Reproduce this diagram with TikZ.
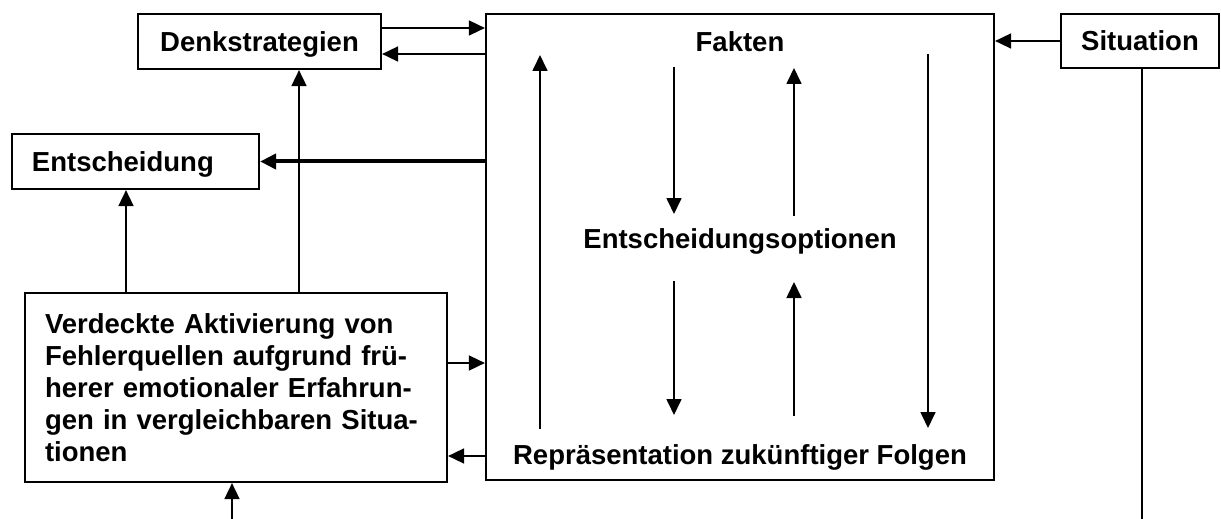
\documentclass[tikz,border=0pt]{standalone}
\usepackage{fontspec}
\setmainfont{Liberation Sans}
\usetikzlibrary{arrows.meta, positioning}

\begin{document}
\begin{tikzpicture}[x=0.5pt, y=-0.5pt,
    >={Triangle[length=8pt, width=7.5pt]},
    schrift/.style={font=\fontsize{13.75}{16}\selectfont\bfseries},
    kasten/.style={draw, line width=1.1pt, inner sep=0pt, schrift},
    einzeilig/.style={text height=10pt, text depth=0pt},
    etikett/.style={inner sep=0pt, anchor=base, schrift},
    pfeil/.style={->, line width=0.85pt}]

    % =================================================================
    % 0. BILDRAHMEN
    % =================================================================
    \useasboundingbox (0,0) rectangle (1221,519);

    % =================================================================
    % 1. KAESTEN
    % =================================================================
    \node[kasten, einzeilig, minimum width=121.5pt, minimum height=27.5pt] (denk) at (259.5,41.5) {Denkstrategien};
    \node[kasten, einzeilig, minimum width=79pt, minimum height=27pt] (sit) at (1140,41) {Situation};
    \node[kasten, einzeilig, minimum height=27.5pt, text width=103.5pt, inner xsep=10pt, align=left] (ent) at (135.5,161.5) {Entscheidung};
    \node[kasten, minimum width=254pt, minimum height=233pt] (gross) at (740,247) {};
    \node[kasten, minimum height=94.5pt, text width=191pt, inner xsep=10pt, align=left] (verd) at (236,387.5)
        {Verdeckte Aktivierung von\\Fehlerquellen aufgrund frü-\\herer emotionaler Erfahrun-\\gen in vergleichbaren Situa-\\tionen};

    % =================================================================
    % 2. TEXTE IM GROSSEN KASTEN
    % =================================================================
    \node[etikett] (fakten) at (740,52) {Fakten};
    \node[etikett] (optionen) at (740,248) {Entscheidungsoptionen};
    \node[etikett] (folgen) at (740,464) {Repräsentation zukünftiger Folgen};

    % =================================================================
    % 3. HILFSPUNKTE
    % =================================================================
    \coordinate (h1) at (0,28);
    \coordinate (h2) at (0,54);
    \coordinate (h3) at (0,363);
    \coordinate (h4) at (0,456);
    \coordinate (v1) at (126,0);
    \coordinate (v2) at (299,0);
    \coordinate (unten) at (232,519);
    \coordinate (sitende) at (1142,519);

    % =================================================================
    % 4. VERBINDUNGEN AUSSEN
    % =================================================================
    \draw[pfeil] (denk.east |- h1) -- (gross.west |- h1);
    \draw[pfeil] (gross.west |- h2) -- (denk.east |- h2);
    \draw[pfeil] (sit.west) -- (gross.east |- sit.west);
    \draw[->, line width=2pt] (gross.west |- ent.east) -- (ent.east);
    \draw[pfeil] (verd.north -| v1) -- (ent.south -| v1);
    \draw[pfeil] (verd.north -| v2) -- (denk.south -| v2);
    \draw[pfeil] (verd.east |- h3) -- (gross.west |- h3);
    \draw[pfeil] (gross.west |- h4) -- (verd.east |- h4);
    \draw[pfeil] (unten) -- (verd.south -| unten);
    \draw[line width=0.85pt] (sit.south -| sitende) -- (sitende);

    % =================================================================
    % 5. PFEILE IM GROSSEN KASTEN
    % =================================================================
    \foreach \x/\von/\bis in {540/429/55, 674/67/214, 794/216/68, 674/281/415, 794/416/282, 928/54/428} {
        \coordinate (p\x\von) at (\x,\von);
        \coordinate (q\x\von) at (\x,\bis);
        \draw[pfeil] (p\x\von) -- (q\x\von);
    }

\end{tikzpicture}
\end{document}
